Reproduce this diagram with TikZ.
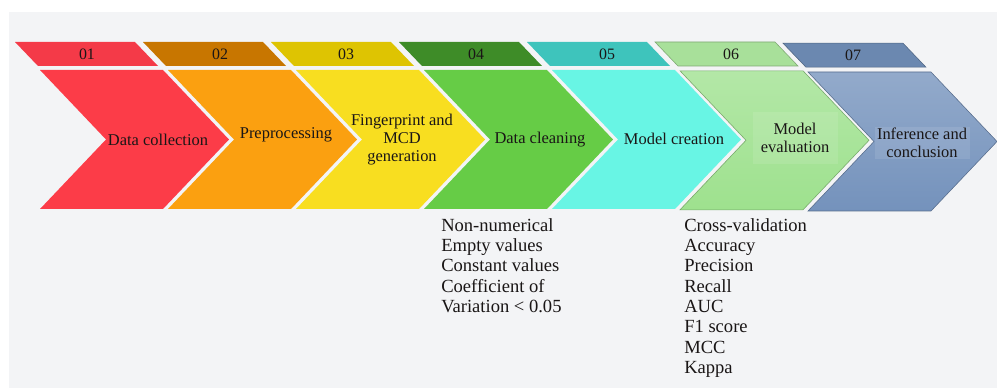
\documentclass[tikz,border=0pt]{standalone}
\usepackage{fontspec}
\setmainfont{Liberation Serif}
\usepackage{tikz}
\usepackage{xcolor}
\definecolor{bgcol}{RGB}{243,244,246}
\definecolor{txtcol}{RGB}{26,22,22}
\definecolor{redcol}{RGB}{252,60,72}
\definecolor{redtab}{RGB}{244,58,72}
\definecolor{orangecol}{RGB}{251,160,16}
\definecolor{orangetab}{RGB}{200,118,0}
\definecolor{yellowcol}{RGB}{248,222,32}
\definecolor{yellowtab}{RGB}{222,196,2}
\definecolor{greencol}{RGB}{102,204,70}
\definecolor{greentab}{RGB}{62,140,40}
\definecolor{aquacol}{RGB}{104,245,228}
\definecolor{aquatab}{RGB}{62,196,188}
\definecolor{mintcol}{RGB}{158,225,142}
\definecolor{minttab}{RGB}{168,224,154}
\definecolor{bluecol}{RGB}{116,146,188}
\definecolor{bluetab}{RGB}{107,136,176}
\tikzset{
  % number tab above each step
  tabshape/.style={fill=#1},
  % outlined tab (last two steps)
  tabline/.style={fill=#1, draw=#1!75!black, line width=0.4pt},
  % flat chevron
  chevshape/.style={fill=#1},
  % chevron with vertical gradient
  chevgrad/.style={top color=#1!78!white, bottom color=#1, draw=#1!75!black, line width=0.4pt},
  % step number
  numlabel/.style={font=\fontsize{11.3}{13}\selectfont, text=txtcol, inner sep=0pt},
  % step title inside chevron
  steplabel/.style={font=\fontsize{11.7}{12.8}\selectfont, text=txtcol, align=center, inner sep=1pt},
  % faint text panel
  hlbox/.style={fill=white, fill opacity=0.1, text opacity=1},
  % bullet-free list under a step
  listtext/.style={font=\fontsize{13.2}{14.46}\selectfont, text=txtcol, align=left, inner sep=0pt, anchor=north west},
}

\begin{document}
\begin{tikzpicture}
  % canvas
  \fill[white] (0,0) rectangle (24.925,9.7);
  \fill[bgcol] (0.225,0) rectangle (24.925,9.4);
  \useasboundingbox (0,0) rectangle (24.925,9.7);

  % number tabs
  \fill[tabshape=redtab]    (0.375,8.65)  -- ++(3.0,0) -- ++(0.575,-0.6) -- ++(-3.0,0) -- cycle;
  \fill[tabshape=orangetab] (3.575,8.65)  -- ++(3.0,0) -- ++(0.575,-0.6) -- ++(-3.0,0) -- cycle;
  \fill[tabshape=yellowtab] (6.775,8.65)  -- ++(3.0,0) -- ++(0.575,-0.6) -- ++(-3.0,0) -- cycle;
  \fill[tabshape=greentab]  (9.975,8.65)  -- ++(3.0,0) -- ++(0.575,-0.6) -- ++(-3.0,0) -- cycle;
  \fill[tabshape=aquatab]   (13.175,8.65) -- ++(3.0,0) -- ++(0.575,-0.6) -- ++(-3.0,0) -- cycle;
  \path[tabline=minttab]    (16.375,8.65) -- ++(3.0,0) -- ++(0.575,-0.6) -- ++(-3.0,0) -- cycle;
  \path[tabline=bluetab]    (19.575,8.62) -- ++(3.0,0) -- ++(0.575,-0.6) -- ++(-3.0,0) -- cycle;

  \node[numlabel] (n1) at (2.175,8.35)  {01};
  \node[numlabel] (n2) at (5.5,8.35)    {02};
  \node[numlabel] (n3) at (8.65,8.35)   {03};
  \node[numlabel] (n4) at (11.9,8.35)   {04};
  \node[numlabel] (n5) at (15.175,8.35) {05};
  \node[numlabel] (n6) at (18.275,8.35) {06};
  \node[numlabel] (n7) at (21.325,8.33) {07};

  % chevrons
  \fill[chevshape=redcol]    (1.0,7.95)  -- ++(3.075,0) -- ++(1.65,-1.7375) -- ++(-1.65,-1.7375) -- ++(-3.075,0) -- ++(1.65,1.7375) -- cycle;
  \fill[chevshape=orangecol] (4.2,7.95)  -- ++(3.075,0) -- ++(1.65,-1.7375) -- ++(-1.65,-1.7375) -- ++(-3.075,0) -- ++(1.65,1.7375) -- cycle;
  \fill[chevshape=yellowcol] (7.4,7.95)  -- ++(3.075,0) -- ++(1.65,-1.7375) -- ++(-1.65,-1.7375) -- ++(-3.075,0) -- ++(1.65,1.7375) -- cycle;
  \fill[chevshape=greencol]  (10.6,7.95) -- ++(3.075,0) -- ++(1.65,-1.7375) -- ++(-1.65,-1.7375) -- ++(-3.075,0) -- ++(1.65,1.7375) -- cycle;
  \fill[chevshape=aquacol]   (13.8,7.95) -- ++(3.075,0) -- ++(1.65,-1.7375) -- ++(-1.65,-1.7375) -- ++(-3.075,0) -- ++(1.65,1.7375) -- cycle;
  \path[chevgrad=mintcol]    (17.0,7.93) -- ++(3.075,0) -- ++(1.65,-1.7375) -- ++(-1.65,-1.7375) -- ++(-3.075,0) -- ++(1.65,1.7375) -- cycle;
  \path[chevgrad=bluecol]    (20.2,7.9)  -- ++(3.075,0) -- ++(1.65,-1.7375) -- ++(-1.65,-1.7375) -- ++(-3.075,0) -- ++(1.65,1.7375) -- cycle;

  % step titles
  \node[steplabel] (s1) at (3.95,6.2)   {Data collection};
  \node[steplabel] (s2) at (7.15,6.32)  {Preprocessing};
  \node[steplabel] (s3) at (10.05,6.2)  {Fingerprint and\\MCD\\generation};
  \node[steplabel] (s4) at (13.5,6.2)   {Data cleaning};
  \node[steplabel] (s5) at (16.85,6.22) {Model creation};
  \node[steplabel, hlbox, minimum width=2.125cm, minimum height=1.3cm] (s6) at (19.875,6.25) {Model\\evaluation};
  \node[steplabel, hlbox, minimum width=2.375cm] (s7) at (23.05,6.12) {Inference and\\conclusion};

  % criteria lists
  \node[listtext] (clean) at (11.025,4.25)
    {Non-numerical\\Empty values\\Constant values\\Coefficient of\\Variation < 0.05};
  \node[listtext] (eval) at (17.1,4.25)
    {Cross-validation\\Accuracy\\Precision\\Recall\\AUC\\F1 score\\MCC\\Kappa};
\end{tikzpicture}
\end{document}
